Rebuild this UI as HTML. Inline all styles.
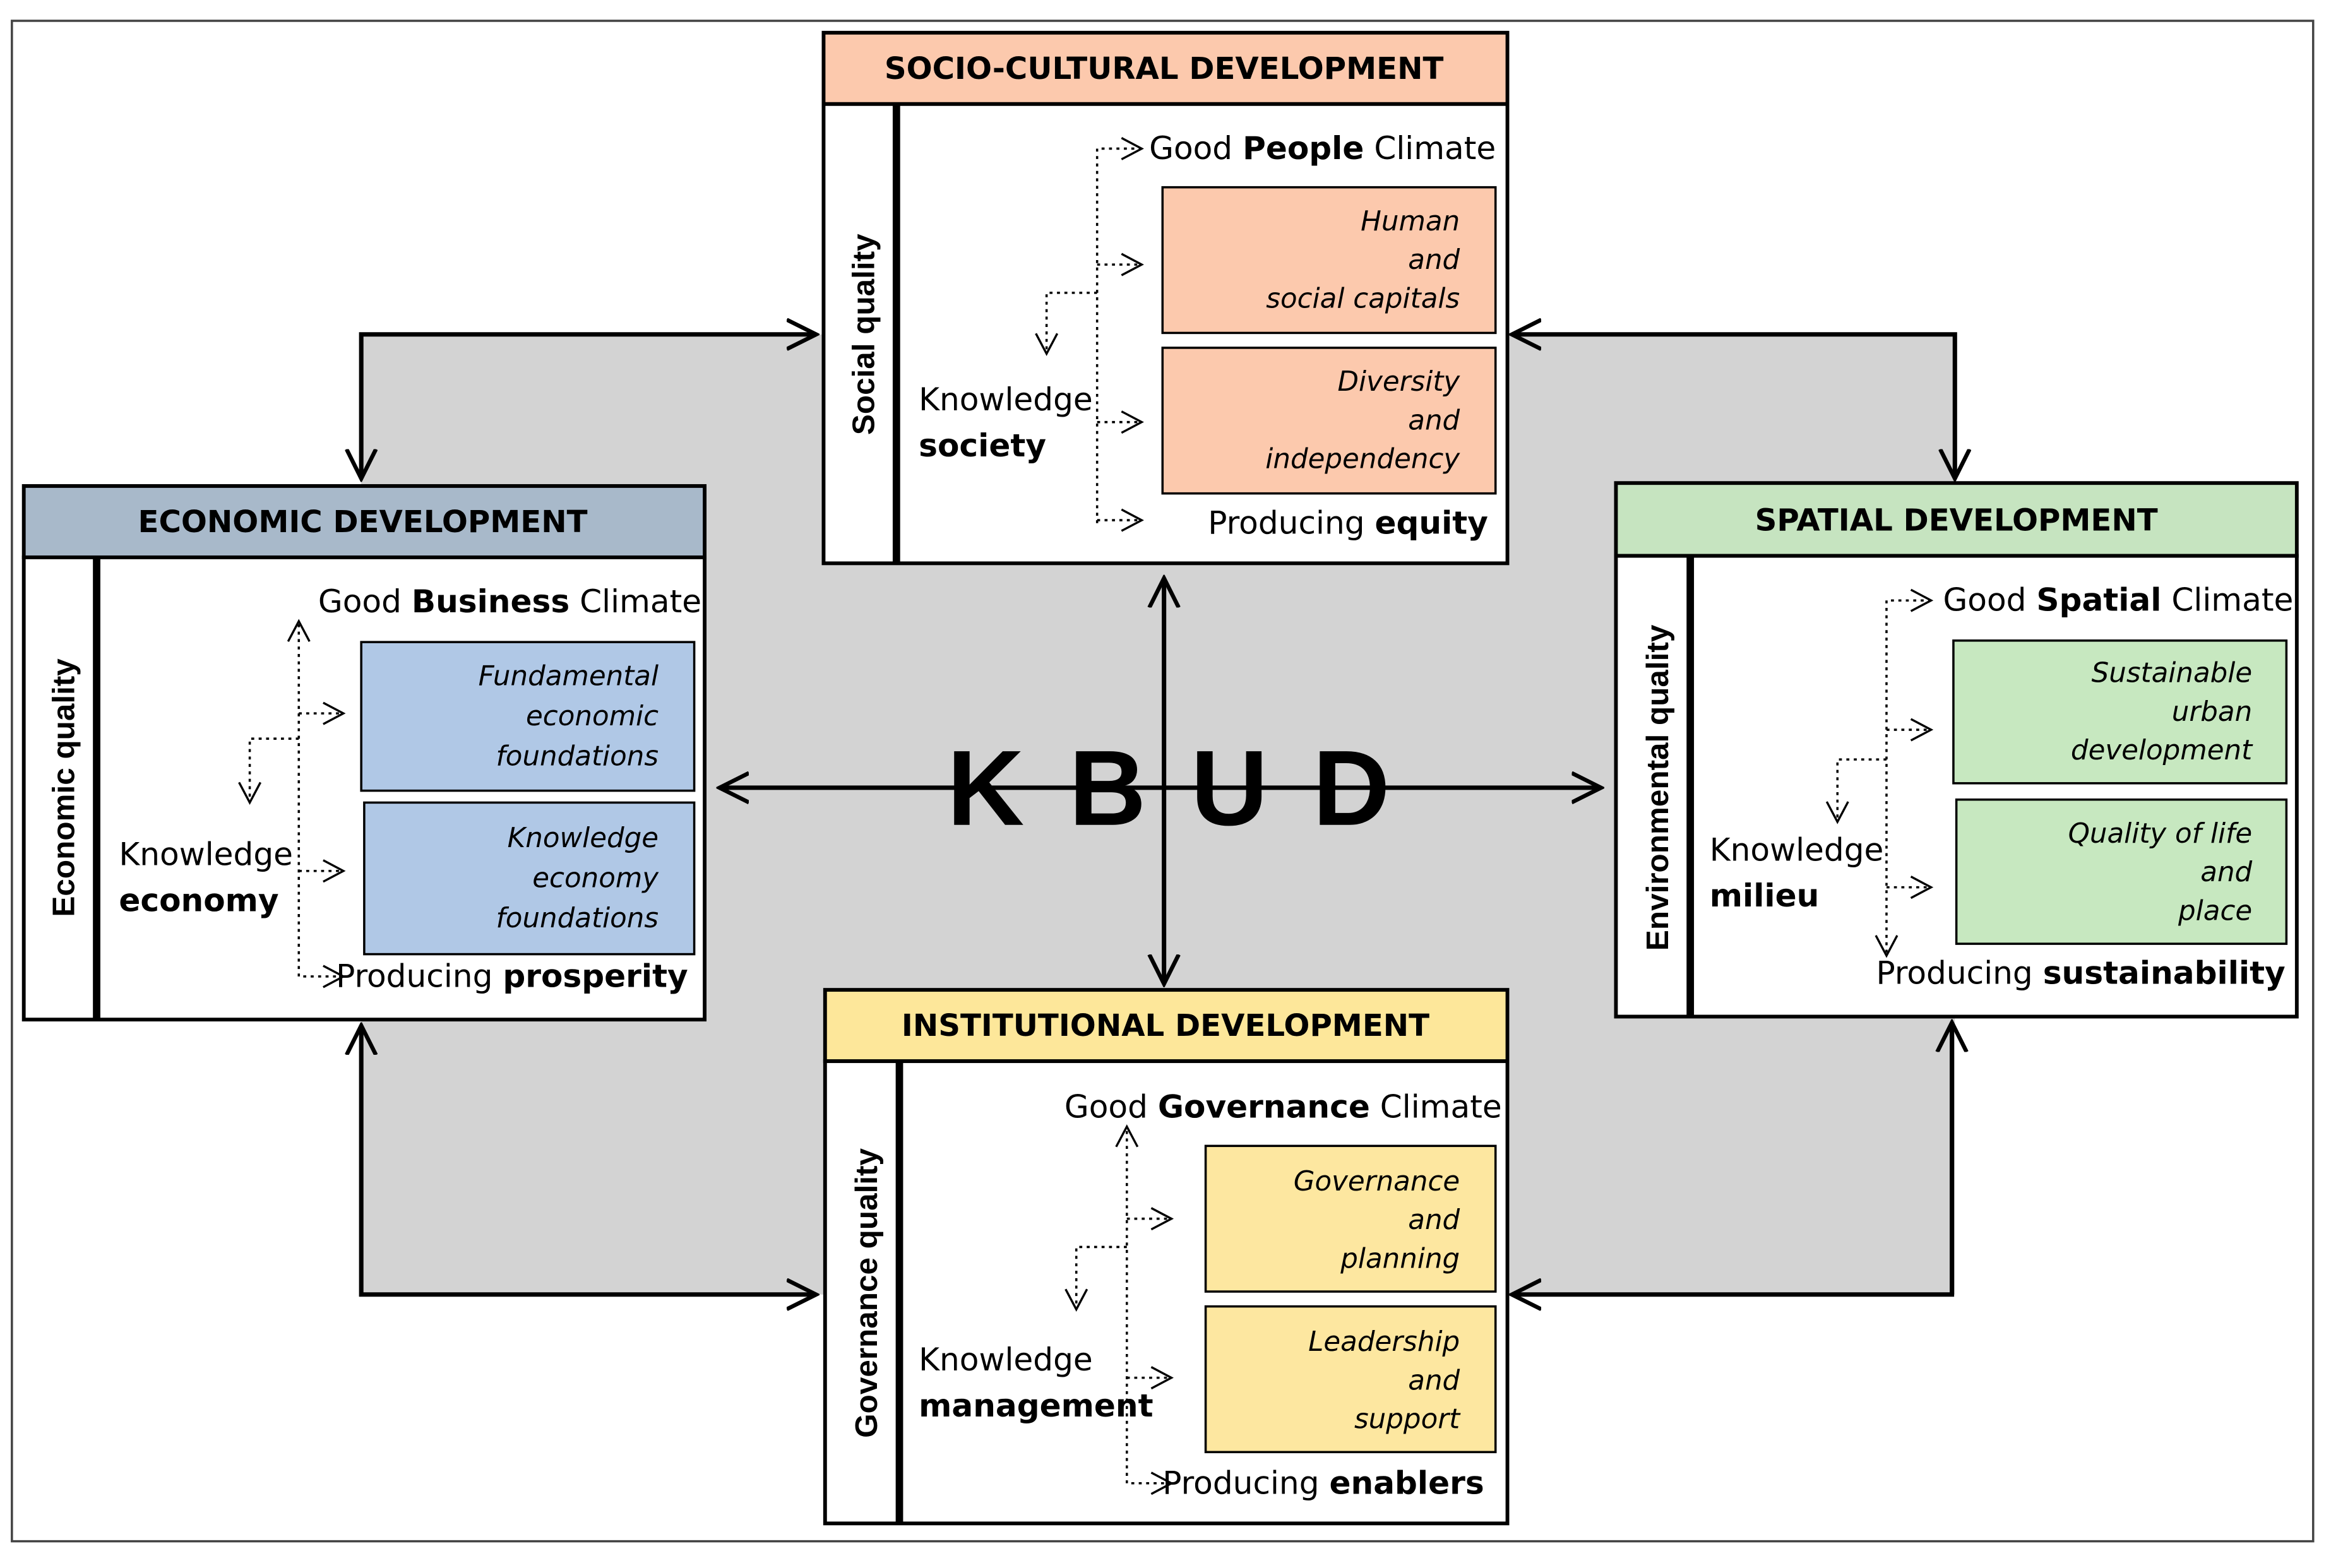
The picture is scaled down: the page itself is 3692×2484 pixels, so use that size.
<!DOCTYPE html>
<html><head><meta charset="utf-8">
<style>
html,body{margin:0;padding:0;background:#fff;}
svg{display:block;}
text{font-family:"DejaVu Sans","Liberation Sans",sans-serif;fill:#000;}
.h{font-weight:bold;font-size:20.5px;}
.t{font-size:21.3px;}
.i{font-size:18.5px;font-style:italic;}
.q{font-weight:bold;font-size:21px;font-family:"Liberation Sans",sans-serif;}
.d{fill:none;stroke:#000;stroke-width:1.5;stroke-dasharray:2 3;}
.L{fill:none;stroke:#000;stroke-width:3;}
</style></head>
<body>
<svg width="3692" height="2484" viewBox="0 0 1568 1055" preserveAspectRatio="none" xmlns="http://www.w3.org/2000/svg">
<defs>
<marker id="a" viewBox="0 0 20 20" refX="18" refY="10" markerWidth="16" markerHeight="16" orient="auto-start-reverse" markerUnits="userSpaceOnUse">
<path d="M1,1 L18,10 L1,19" fill="none" stroke="#000" stroke-width="1.8"/>
</marker>
<marker id="b" viewBox="0 0 20 20" refX="18" refY="10" markerWidth="22" markerHeight="22" orient="auto-start-reverse" markerUnits="userSpaceOnUse">
<path d="M0,1 L18,10 L0,19" fill="none" stroke="#000" stroke-width="2.5"/>
</marker>
</defs>
<rect x="8" y="14" width="1548" height="1023" fill="#fff" stroke="#444" stroke-width="1.5"/>
<rect x="243" y="225" width="1072" height="646" fill="#d3d3d3"/>
<polyline class="L" points="243,322 243,225 549,225" marker-start="url(#b)" marker-end="url(#b)"/>
<polyline class="L" points="1017,225 1315,225 1315,322" marker-start="url(#b)" marker-end="url(#b)"/>
<polyline class="L" points="243,690 243,871 549,871" marker-start="url(#b)" marker-end="url(#b)"/>
<polyline class="L" points="1017,871 1313,871 1313,688" marker-start="url(#b)" marker-end="url(#b)"/>
<line class="L" x1="484" y1="530" x2="1077" y2="530" marker-start="url(#b)" marker-end="url(#b)"/>
<line class="L" x1="783" y1="389" x2="783" y2="662" marker-start="url(#b)" marker-end="url(#b)"/>

<!-- SOCIO -->
<rect x="554" y="22" width="460" height="48" fill="#fcc9ad" stroke="#000" stroke-width="2.5"/>
<text class="h" x="783" y="53" text-anchor="middle">SOCIO-CULTURAL DEVELOPMENT</text>
<rect x="554" y="70" width="460" height="309" fill="#fff" stroke="#000" stroke-width="2.5"/>
<line x1="603" y1="70" x2="603" y2="379" stroke="#000" stroke-width="5"/>
<text class="q" transform="translate(588,225) rotate(-90)" text-anchor="middle">Social quality</text>
<text class="t" x="773" y="107">Good <tspan font-weight="bold">People</tspan> Climate</text>
<rect x="782" y="126" width="224" height="98" fill="#fcc9ad" stroke="#000" stroke-width="1.5"/>
<rect x="782" y="234" width="224" height="98" fill="#fcc9ad" stroke="#000" stroke-width="1.5"/>
<text class="i" text-anchor="end"><tspan x="982" y="155">Human</tspan><tspan x="982" y="181">and</tspan><tspan x="982" y="207">social capitals</tspan></text>
<text class="i" text-anchor="end"><tspan x="982" y="263">Diversity</tspan><tspan x="982" y="289">and</tspan><tspan x="982" y="315">independency</tspan></text>
<text class="t"><tspan x="618" y="276">Knowledge</tspan><tspan x="618" y="307" font-weight="bold">society</tspan></text>
<text class="t" x="1001" y="359" text-anchor="end">Producing <tspan font-weight="bold">equity</tspan></text>
<polyline class="d" points="738,352 738,100 768,100" marker-end="url(#a)"/>
<line class="d" x1="738" y1="178" x2="768" y2="178" marker-end="url(#a)"/>
<line class="d" x1="738" y1="284" x2="768" y2="284" marker-end="url(#a)"/>
<line class="d" x1="738" y1="350" x2="768" y2="350" marker-end="url(#a)"/>
<polyline class="d" points="738,197 704,197 704,238" marker-end="url(#a)"/>

<!-- ECONOMIC -->
<rect x="16" y="327" width="458" height="48" fill="#a8b9ca" stroke="#000" stroke-width="2.5"/>
<text class="h" x="244" y="358" text-anchor="middle">ECONOMIC DEVELOPMENT</text>
<rect x="16" y="375" width="458" height="311" fill="#fff" stroke="#000" stroke-width="2.5"/>
<line x1="65" y1="375" x2="65" y2="686" stroke="#000" stroke-width="5"/>
<text class="q" transform="translate(50,530) rotate(-90)" text-anchor="middle">Economic quality</text>
<text class="t" x="214" y="412">Good <tspan font-weight="bold">Business</tspan> Climate</text>
<rect x="243" y="432" width="224" height="100" fill="#b0c8e6" stroke="#000" stroke-width="1.5"/>
<rect x="245" y="540" width="222" height="102" fill="#b0c8e6" stroke="#000" stroke-width="1.5"/>
<text class="i" text-anchor="end"><tspan x="443" y="461">Fundamental</tspan><tspan x="443" y="488">economic</tspan><tspan x="443" y="515">foundations</tspan></text>
<text class="i" text-anchor="end"><tspan x="443" y="570">Knowledge</tspan><tspan x="443" y="597">economy</tspan><tspan x="443" y="624">foundations</tspan></text>
<text class="t"><tspan x="80" y="582">Knowledge</tspan><tspan x="80" y="613" font-weight="bold">economy</tspan></text>
<text class="t" x="226" y="664">Producing <tspan font-weight="bold">prosperity</tspan></text>
<polyline class="d" points="231,657 201,657 201,418" marker-start="url(#a)" marker-end="url(#a)"/>
<line class="d" x1="201" y1="480" x2="231" y2="480" marker-end="url(#a)"/>
<line class="d" x1="201" y1="586" x2="231" y2="586" marker-end="url(#a)"/>
<polyline class="d" points="201,497 168,497 168,540" marker-end="url(#a)"/>

<!-- SPATIAL -->
<rect x="1087" y="325" width="458" height="49" fill="#c6e4c0" stroke="#000" stroke-width="2.5"/>
<text class="h" x="1316" y="357" text-anchor="middle">SPATIAL DEVELOPMENT</text>
<rect x="1087" y="374" width="458" height="310" fill="#fff" stroke="#000" stroke-width="2.5"/>
<line x1="1137" y1="374" x2="1137" y2="684" stroke="#000" stroke-width="5"/>
<text class="q" transform="translate(1122,530) rotate(-90)" text-anchor="middle">Environmental quality</text>
<text class="t" x="1307" y="411">Good <tspan font-weight="bold">Spatial</tspan> Climate</text>
<rect x="1314" y="431" width="224" height="96" fill="#c7e8c0" stroke="#000" stroke-width="1.5"/>
<rect x="1316" y="538" width="222" height="97" fill="#c7e8c0" stroke="#000" stroke-width="1.5"/>
<text class="i" text-anchor="end"><tspan x="1515" y="459">Sustainable</tspan><tspan x="1515" y="485">urban</tspan><tspan x="1515" y="511">development</tspan></text>
<text class="i" text-anchor="end"><tspan x="1515" y="567">Quality of life</tspan><tspan x="1515" y="593">and</tspan><tspan x="1515" y="619">place</tspan></text>
<text class="t"><tspan x="1150" y="579">Knowledge</tspan><tspan x="1150" y="610" font-weight="bold">milieu</tspan></text>
<text class="t" x="1262" y="662">Producing <tspan font-weight="bold">sustainability</tspan></text>
<polyline class="d" points="1299,404 1269,404 1269,643" marker-start="url(#a)" marker-end="url(#a)"/>
<line class="d" x1="1269" y1="491" x2="1299" y2="491" marker-end="url(#a)"/>
<line class="d" x1="1269" y1="597" x2="1299" y2="597" marker-end="url(#a)"/>
<polyline class="d" points="1269,511 1236,511 1236,553" marker-end="url(#a)"/>

<!-- INSTITUTIONAL -->
<rect x="555" y="666" width="459" height="48" fill="#fde79a" stroke="#000" stroke-width="2.5"/>
<text class="h" x="784" y="697" text-anchor="middle">INSTITUTIONAL DEVELOPMENT</text>
<rect x="555" y="714" width="459" height="311" fill="#fff" stroke="#000" stroke-width="2.5"/>
<line x1="605" y1="714" x2="605" y2="1025" stroke="#000" stroke-width="5"/>
<text class="q" transform="translate(590,870) rotate(-90)" text-anchor="middle">Governance quality</text>
<text class="t" x="716" y="752">Good <tspan font-weight="bold">Governance</tspan> Climate</text>
<rect x="811" y="771" width="195" height="98" fill="#fde7a0" stroke="#000" stroke-width="1.5"/>
<rect x="811" y="879" width="195" height="98" fill="#fde7a0" stroke="#000" stroke-width="1.5"/>
<text class="i" text-anchor="end"><tspan x="982" y="801">Governance</tspan><tspan x="982" y="827">and</tspan><tspan x="982" y="853">planning</tspan></text>
<text class="i" text-anchor="end"><tspan x="982" y="909">Leadership</tspan><tspan x="982" y="935">and</tspan><tspan x="982" y="961">support</tspan></text>
<text class="t"><tspan x="618" y="922">Knowledge</tspan><tspan x="618" y="953" font-weight="bold">management</tspan></text>
<text class="t" x="782" y="1005">Producing <tspan font-weight="bold">enablers</tspan></text>
<polyline class="d" points="788,998 758,998 758,758" marker-start="url(#a)" marker-end="url(#a)"/>
<line class="d" x1="758" y1="820" x2="788" y2="820" marker-end="url(#a)"/>
<line class="d" x1="758" y1="927" x2="788" y2="927" marker-end="url(#a)"/>
<polyline class="d" points="758,839 724,839 724,881" marker-end="url(#a)"/>

<!-- KBUD -->
<text x="801" y="555" text-anchor="middle" font-weight="bold" font-size="72" letter-spacing="30" style="font-family:'Liberation Sans',sans-serif">KBUD</text>
</svg>
</body></html>
